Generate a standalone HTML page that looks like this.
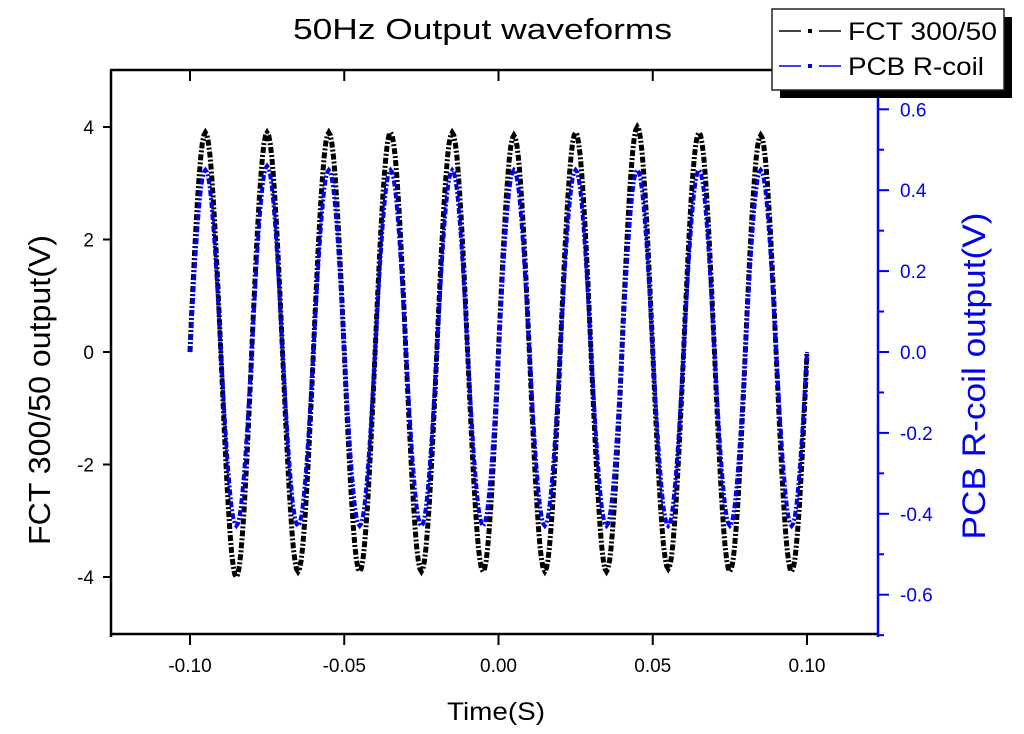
<!DOCTYPE html>
<html><head><meta charset="utf-8"><style>
body{margin:0;background:#fff;}
svg{display:block;font-family:"Liberation Sans",Arial,sans-serif;}
</style></head><body>
<svg id="chart" width="1024" height="734" viewBox="0 0 1024 734" xmlns="http://www.w3.org/2000/svg">
<text x="293" y="39" font-size="29" textLength="379" lengthAdjust="spacingAndGlyphs" fill="#000">50Hz Output waveforms</text>
<g id="axes"></g>
<g id="series"></g>
<text x="447" y="720" font-size="25" textLength="98" lengthAdjust="spacingAndGlyphs">Time(S)</text>
<text transform="translate(50,390) rotate(-90)" font-size="31" text-anchor="middle" textLength="310" lengthAdjust="spacingAndGlyphs">FCT 300/50 output(V)</text>
<text transform="translate(985,376) rotate(-90)" font-size="32" text-anchor="middle" fill="#0000ee" textLength="327" lengthAdjust="spacingAndGlyphs">PCB R-coil output(V)</text>
<g>
<rect x="780" y="17" width="232" height="81" fill="#000"/>
<rect x="772" y="9" width="232" height="81" fill="#fff" stroke="#222" stroke-width="1.5"/>
<g>
<line x1="779" y1="31" x2="801" y2="31" stroke="#000" stroke-width="1.5"/>
<rect x="808" y="29" width="4" height="4" fill="#000"/>
<line x1="819" y1="31" x2="841" y2="31" stroke="#000" stroke-width="1.5"/>
<text x="848" y="40" font-size="25" textLength="149" lengthAdjust="spacingAndGlyphs">FCT 300/50</text></g>
<g>
<line x1="779" y1="66" x2="801" y2="66" stroke="#0000ee" stroke-width="1.5"/>
<rect x="808" y="64" width="4" height="4" fill="#0000ee"/>
<line x1="819" y1="66" x2="841" y2="66" stroke="#0000ee" stroke-width="1.5"/>
<text x="848" y="75" font-size="25" textLength="136" lengthAdjust="spacingAndGlyphs">PCB R-coil</text></g>
</g>
</svg>
<script>
// data
const cycleStarts = [-0.10,-0.08,-0.06,-0.04,-0.02,0.00,0.02,0.04,0.06,0.08];
const fctPeaks   = [3.9,3.9,3.9,3.9,3.9,3.85,3.9,4.0,3.9,3.85];
const fctTroughs = [-4.0,-3.9,-3.9,-3.9,-3.9,-3.9,-3.9,-3.85,-3.9,-3.9];
const pcbPeaks   = [0.45,0.46,0.45,0.45,0.45,0.45,0.45,0.45,0.45,0.45];
const pcbTroughs = [-0.43,-0.43,-0.43,-0.43,-0.43,-0.43,-0.43,-0.43,-0.43,-0.43];
const xTicks = [-0.10,-0.05,0.00,0.05,0.10];
const xTickLabels = ["-0.10","-0.05","0.00","0.05","0.10"];
const leftTicks = [-4,-2,0,2,4];
const rightTicks = [-0.6,-0.4,-0.2,0.0,0.2,0.4,0.6];
const rightTickLabels = ["-0.6","-0.4","-0.2","0.0","0.2","0.4","0.6"];

const NS="http://www.w3.org/2000/svg";
const X0=111,X1=878,Y0=70,Y1=634;
const xs=t=>498.5+t*3085;
const yL=v=>352-v*56.25;
const yR=v=>352-v*404.5;
function mk(tag,attrs,parent){const e=document.createElementNS(NS,tag);for(const k in attrs)e.setAttribute(k,attrs[k]);parent.appendChild(e);return e;}
const ax=document.getElementById('axes');
const a1=mk('line',{x1:X0,y1:Y0,x2:X0,y2:Y1+3,stroke:'#000','stroke-width':2.5},ax);


const a2=mk('line',{x1:X0-1,y1:Y1,x2:X1,y2:Y1,stroke:'#000','stroke-width':2.5},ax);


const a3=mk('line',{x1:X0-1,y1:Y0,x2:772,y2:Y0,stroke:'#000','stroke-width':2.5},ax);


const a4=mk('line',{x1:X1,y1:Y0,x2:X1,y2:Y1+3,stroke:'#0000ee','stroke-width':2.5},ax);


xTicks.forEach((t,i)=>{const x=xs(t);
 mk('line',{x1:x,y1:Y1,x2:x,y2:Y1+11,stroke:'#000','stroke-width':2},ax);
 mk('line',{x1:x,y1:Y0,x2:x,y2:Y0+11,stroke:'#000','stroke-width':2},ax);
 const tx=mk('text',{x:x,y:Y1+38,'font-size':19,'text-anchor':'middle'},ax);tx.textContent=xTickLabels[i];
 
 
});
leftTicks.forEach(v=>{const y=yL(v);
 mk('line',{x1:X0-8,y1:y,x2:X0,y2:y,stroke:'#000','stroke-width':2},ax);
 const tx=mk('text',{x:X0-17,y:y+7,'font-size':19,'text-anchor':'end'},ax);tx.textContent=String(v);
 
 
});
for(let k=-7;k<=6;k++){const v=k/10;const y=yR(v);const maj=(k%2===0);
 mk('line',{x1:X1,y1:y,x2:X1+(maj?11:6),y2:y,stroke:'#0000ee','stroke-width':2},ax);}
rightTicks.forEach((v,i)=>{const y=yR(v);
 const tx=mk('text',{x:X1+22,y:y+7,'font-size':19,fill:'#0000ee'},ax);tx.textContent=rightTickLabels[i];
 
 
});
function wave(peaks,troughs,yf){
 let d='';
 cycleStarts.forEach((t0,i)=>{
  for(let j=0;j<=40;j++){const t=t0+j*0.0005;const ph=2*Math.PI*(t-t0)/0.02;const s=Math.sin(ph);
   const v=s>=0?s*peaks[i]:-s*troughs[i];
   d+=(d?'L':'M')+xs(t).toFixed(1)+','+yf(v).toFixed(1);}
 });
 return d;
}
const sg=document.getElementById('series');
const p1=mk('path',{d:wave(fctPeaks,fctTroughs,yL),fill:'none',stroke:'#000','stroke-width':5,'stroke-dasharray':'6,2,2,2'},sg);


const p2=mk('path',{d:wave(pcbPeaks,pcbTroughs,yR),fill:'none',stroke:'#0000ee','stroke-width':4,'stroke-dasharray':'6,2,2,2'},sg);


</script>
</body></html>
